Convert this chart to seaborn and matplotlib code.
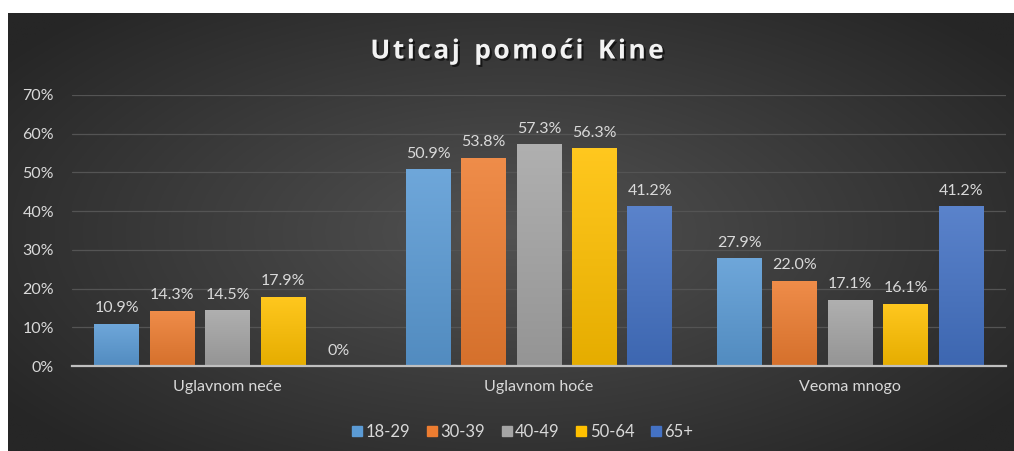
import numpy as np
import pandas as pd
import seaborn as sns
import matplotlib.pyplot as plt
import matplotlib.colors as mcolors
import matplotlib.patheffects as pe
from matplotlib.lines import Line2D

# ---- data ----
categories = ['Uglavnom neće', 'Uglavnom hoće', 'Veoma mnogo']
age_groups = ['18-29', '30-39', '40-49', '50-64', '65+']
values_18_29 = [10.9, 50.9, 27.9]
values_30_39 = [14.3, 53.8, 22.0]
values_40_49 = [14.5, 57.3, 17.1]
values_50_64 = [17.9, 56.3, 16.1]
values_65 = [0.0, 41.2, 41.2]
colors = ['#5B9BD5', '#ED7D31', '#A5A5A5', '#FFC000', '#4472C4']
title = 'Uticaj pomoći Kine'

series = [values_18_29, values_30_39, values_40_49, values_50_64, values_65]
df = pd.DataFrame([
    {'kategorija': c, 'grupa': g, 'vrednost': v}
    for g, vals in zip(age_groups, series)
    for c, v in zip(categories, vals)
])

sns.set_theme(style='dark')
plt.rcParams['font.family'] = ['Lato', 'DejaVu Sans']

W, H = 1014, 451
fig = plt.figure(figsize=(W / 100, H / 100), dpi=100)
fig.patch.set_facecolor('white')

# ---- radial gradient background ----
bg = fig.add_axes([8 / W, 0, 1 - 8 / W, 1 - 13 / H])
yy, xx = np.mgrid[-1:1:300j, -1:1:600j]
r = np.sqrt((xx / 1.0) ** 2 + (yy / 1.1) ** 2)
r = np.clip(r / 1.25, 0, 1)
inner = np.array(mcolors.to_rgb('#525252'))
outer = np.array(mcolors.to_rgb('#262626'))
img = inner[None, None, :] * (1 - r[..., None]) + outer[None, None, :] * r[..., None]
bg.imshow(img, aspect='auto', extent=[0, 1, 0, 1])
bg.set_axis_off()

# ---- bar chart ----
ax = fig.add_axes([72 / W, 85 / H, (1006 - 72) / W, (366 - 95) / H])
ax.set_facecolor('none')
sns.barplot(data=df, x='kategorija', y='vrednost', hue='grupa',
            order=categories, hue_order=age_groups, palette=colors,
            width=0.89, gap=0.19, ax=ax, legend=False, saturation=1,
            linewidth=0)

ax.set_ylim(0, 70)
ax.set_yticks(np.arange(0, 71, 10))
ax.set_yticklabels([f'{t}%' for t in range(0, 71, 10)])
ax.set_xlim(-0.5, 2.5)
ax.set_xlabel('')
ax.set_ylabel('')
ax.grid(axis='y', color='#545454', linewidth=0.9)
ax.set_axisbelow(True)
for s in ['top', 'right', 'left']:
    ax.spines[s].set_visible(False)
ax.spines['bottom'].set_color('#bfbfbf')
ax.spines['bottom'].set_linewidth(1.6)
ax.tick_params(axis='both', colors='#d9d9d9', labelsize=11.5, length=0)
ax.tick_params(axis='x', pad=10)
ax.tick_params(axis='y', pad=13)

# gradient fill for every bar
for patch in ax.patches:
    base = np.array(mcolors.to_rgb(patch.get_facecolor()))
    top = base + (1 - base) * 0.12
    bottom = base * 0.9
    grad = np.linspace(0, 1, 100)[:, None]
    g = top[None, None, :] * (1 - grad[..., None]) + bottom[None, None, :] * grad[..., None]
    x0, y0 = patch.get_x(), patch.get_y()
    w, h = patch.get_width(), patch.get_height()
    if h <= 0:
        continue
    im = ax.imshow(g, aspect='auto', extent=[x0, x0 + w, y0, y0 + h], zorder=patch.get_zorder())
    im.set_clip_path(patch)
ax.set_xlim(-0.5, 2.5)
ax.set_ylim(0, 70)

for cont in ax.containers:
    labels = [f'{v:.1f}%' if v > 0 else '0%' for v in cont.datavalues]
    ax.bar_label(cont, labels=labels, padding=6, color='#d9d9d9', fontsize=11.5)

# ---- legend ----
handles = [Line2D([], [], marker='s', linestyle='', markersize=7,
                  markerfacecolor=c, markeredgecolor=c) for c in colors]
fig.legend(handles, age_groups, loc='center', bbox_to_anchor=(522 / W, 19 / H),
           ncol=5, frameon=False, fontsize=12, labelcolor='#d9d9d9',
           handletextpad=0.1, columnspacing=0.9, handlelength=0.8)

# ---- title (letter-spaced, drawn char by char) ----
renderer = fig.canvas.get_renderer()
title_kw = dict(fontsize=19, fontweight='bold', color='#f2f2f2',
                family=['Open Sans', 'DejaVu Sans'], va='center', ha='left',
                path_effects=[pe.withSimplePatchShadow(offset=(1.5, -1.5),
                                                        shadow_rgbFace='black', alpha=0.6)])
spacing = 2.5
widths = []
for ch in title:
    t = fig.text(0, 0, ch if ch != ' ' else 'n', **title_kw)
    widths.append(t.get_window_extent(renderer).width * (0.55 if ch == ' ' else 1))
    t.remove()
total = sum(widths) + spacing * (len(title) - 1)
x = 517 - total / 2
for ch, w in zip(title, widths):
    if ch != ' ':
        fig.text(x / W, 1 - 51 / H, ch, **title_kw)
    x += w + spacing

fig.savefig('out.png', dpi=100, facecolor=fig.get_facecolor())
